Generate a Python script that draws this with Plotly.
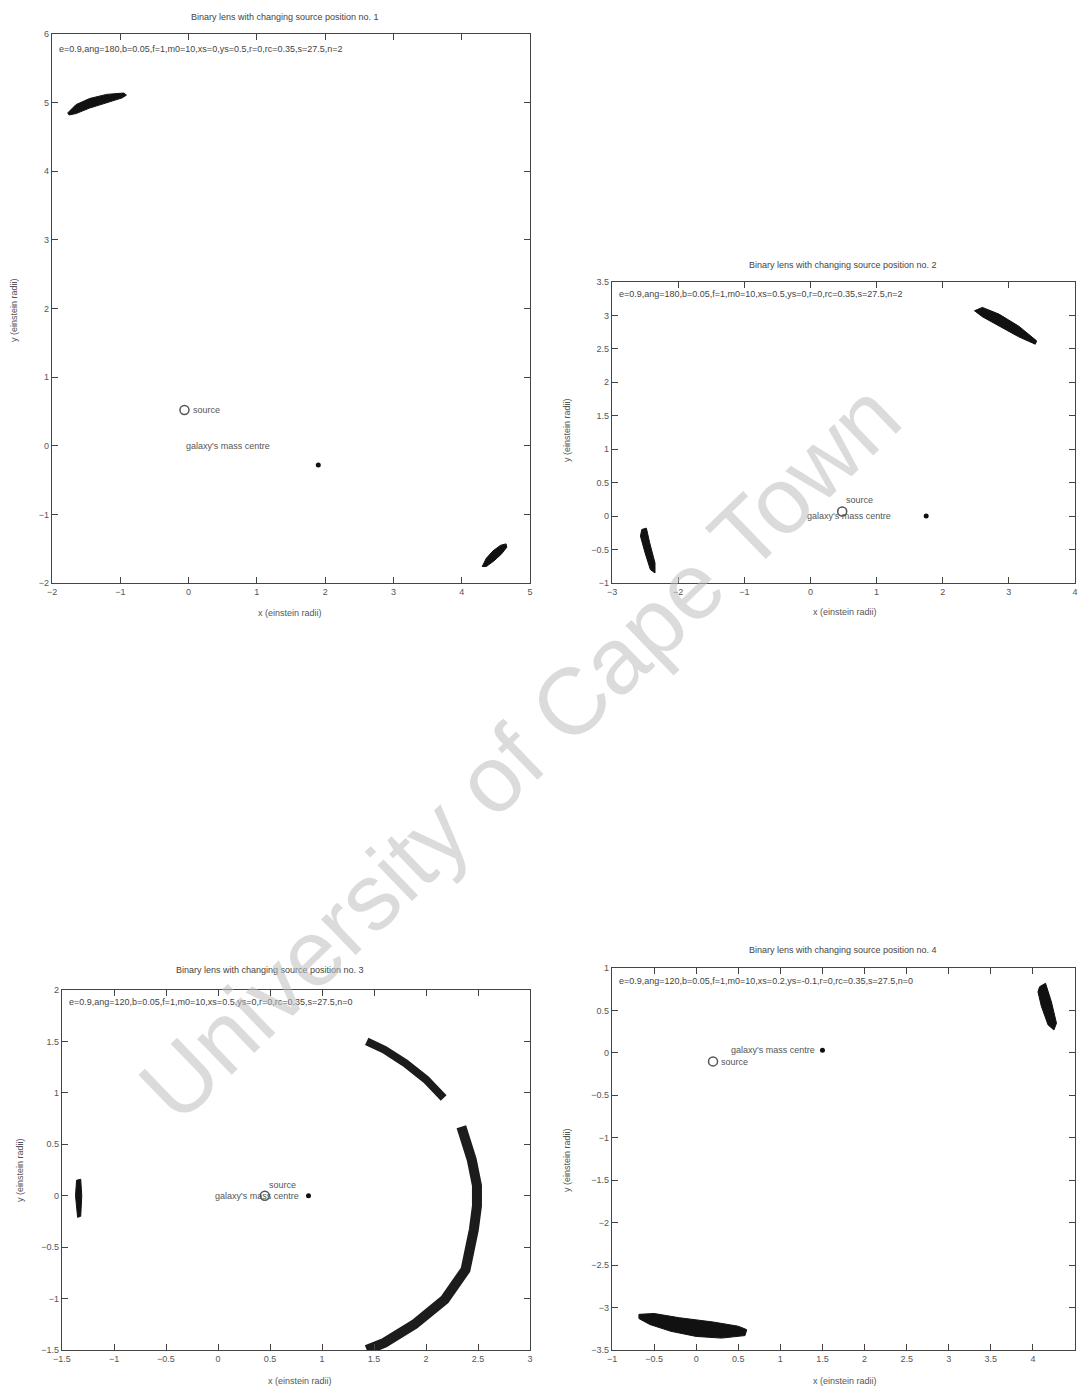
import plotly.graph_objects as go

# ---- panel data (einstein radii) ----
titles = [
    "Binary lens with changing source position no. 1",
    "Binary lens with changing source position no. 2",
    "Binary lens with changing source position no. 3",
    "Binary lens with changing source position no. 4",
]
params = [
    "e=0.9,ang=180,b=0.05,f=1,m0=10,xs=0,ys=0.5,r=0,rc=0.35,s=27.5,n=2",
    "e=0.9,ang=180,b=0.05,f=1,m0=10,xs=0.5,ys=0,r=0,rc=0.35,s=27.5,n=2",
    "e=0.9,ang=120,b=0.05,f=1,m0=10,xs=0.5,ys=0,r=0,rc=0.35,s=27.5,n=0",
    "e=0.9,ang=120,b=0.05,f=1,m0=10,xs=0.2,ys=-0.1,r=0,rc=0.35,s=27.5,n=0",
]

# image outlines, panel 1
p1_img_a_x = [-1.77, -1.65, -1.45, -1.2, -0.95, -0.91, -0.97, -1.2, -1.45, -1.65, -1.75]
p1_img_a_y = [4.85, 4.97, 5.06, 5.12, 5.14, 5.11, 5.07, 5.00, 4.92, 4.84, 4.82]
p1_img_b_x = [4.30, 4.36, 4.46, 4.57, 4.65, 4.66, 4.58, 4.47, 4.36]
p1_img_b_y = [-1.76, -1.64, -1.53, -1.45, -1.43, -1.48, -1.58, -1.68, -1.76]

# panel 2
p2_img_a_x = [2.48, 2.6, 2.85, 3.15, 3.42, 3.40, 3.15, 2.85, 2.6]
p2_img_a_y = [3.07, 3.12, 3.02, 2.84, 2.62, 2.57, 2.68, 2.85, 2.98]
p2_img_b_x = [-2.55, -2.48, -2.43, -2.35, -2.35, -2.42, -2.5, -2.57]
p2_img_b_y = [-0.2, -0.18, -0.4, -0.7, -0.85, -0.8, -0.55, -0.3]

# panel 3 (arcs)
p3_arc_a_x = [1.43, 1.6, 1.8, 2.0, 2.17]
p3_arc_a_y = [1.50, 1.42, 1.29, 1.13, 0.95]
p3_arc_b_x = [2.34, 2.44, 2.49, 2.49, 2.46, 2.38, 2.18, 1.89, 1.6, 1.43]
p3_arc_b_y = [0.67, 0.35, 0.1, -0.1, -0.33, -0.72, -1.01, -1.25, -1.43, -1.5]
p3_img_c_x = [-1.36, -1.32, -1.31, -1.32, -1.35, -1.37]
p3_img_c_y = [0.15, 0.16, 0.0, -0.2, -0.21, 0.0]

# panel 4
p4_img_a_x = [4.08, 4.15, 4.22, 4.28, 4.25, 4.18, 4.1, 4.06]
p4_img_a_y = [0.78, 0.82, 0.6, 0.35, 0.27, 0.33, 0.55, 0.72]
p4_img_b_x = [-0.68, -0.5, -0.2, 0.2, 0.5, 0.6, 0.58, 0.3, 0.0, -0.3, -0.55, -0.68]
p4_img_b_y = [-3.08, -3.07, -3.12, -3.17, -3.22, -3.26, -3.33, -3.36, -3.34, -3.28, -3.2, -3.13]

# source and galaxy mass centre positions
source_x = [-0.06, 0.48, 0.45, 0.2]
source_y = [0.52, 0.07, 0.0, -0.1]
centre_x = [1.9, 1.75, 0.87, 1.5]
centre_y = [-0.28, 0.0, 0.0, 0.03]

# where the "galaxy's mass centre" caption starts (left edge)
caption_x = [-0.07, -0.08, -0.05, -0.02]
caption_y = [0.0, 0.0, 0.0, 0.0]

# axis ranges and ticks
x_ranges = [[-2, 5], [-3, 4], [-1.5, 3], [-1, 4.5]]
y_ranges = [[-2, 6], [-1, 3.5], [-1.5, 2], [-3.5, 1]]
x_dticks = [1, 1, 0.5, 0.5]
y_dticks = [1, 0.5, 0.5, 0.5]

# panel placement (pixels in the page)
W, H = 1081, 1388
boxes = [(52, 530, 34, 583), (612, 1075, 282, 583), (62, 530, 990, 1350), (612, 1075, 968, 1350)]
title_pos = [(285, 17), (843, 265), (270, 970), (843, 950)]
xlab_pos = [(290, 613), (845, 612), (300, 1381), (845, 1381)]
ylab_pos = [(14, 310), (567, 430), (20, 1170), (567, 1160)]

INK = "#111111"
GREY = "#555555"
FONT = "Liberation Sans"

fig = go.Figure()


def ax_names(i):
    sfx = str(i + 1) if i else ""
    return "x" + sfx, "y" + sfx


def fill_shape(i, xs, ys):
    xr, yr = ax_names(i)
    fig.add_trace(go.Scatter(
        x=xs + xs[:1], y=ys + ys[:1], mode="lines", fill="toself",
        fillcolor=INK, line=dict(color=INK, width=1),
        xaxis=xr, yaxis=yr, hoverinfo="skip", showlegend=False))


def arc(i, xs, ys, width):
    xr, yr = ax_names(i)
    fig.add_trace(go.Scatter(
        x=xs, y=ys, mode="lines", line=dict(color="#1c1c1c", width=width),
        xaxis=xr, yaxis=yr, hoverinfo="skip", showlegend=False))


fill_shape(0, p1_img_a_x, p1_img_a_y)
fill_shape(0, p1_img_b_x, p1_img_b_y)
fill_shape(1, p2_img_a_x, p2_img_a_y)
fill_shape(1, p2_img_b_x, p2_img_b_y)
arc(2, p3_arc_a_x, p3_arc_a_y, 8)
arc(2, p3_arc_b_x, p3_arc_b_y, 10)
fill_shape(2, p3_img_c_x, p3_img_c_y)
fill_shape(3, p4_img_a_x, p4_img_a_y)
fill_shape(3, p4_img_b_x, p4_img_b_y)

annotations = []
layout = {}
small = dict(family=FONT, size=9, color=GREY)
for i in range(4):
    sfx = str(i + 1) if i else ""
    xr, yr = ax_names(i)
    x0, x1, y0, y1 = boxes[i]
    axis_common = dict(
        showgrid=False, zeroline=False, showline=True, mirror="ticks",
        linecolor="#444444", linewidth=1.4, ticks="inside", ticklen=6,
        tickcolor="#444444", tickfont=dict(family=FONT, size=9, color=GREY),
        automargin=False,
    )
    layout["xaxis" + sfx] = dict(
        axis_common, domain=[x0 / W, x1 / W], range=x_ranges[i],
        dtick=x_dticks[i], tick0=0, anchor=yr)
    layout["yaxis" + sfx] = dict(
        axis_common, domain=[1 - y1 / H, 1 - y0 / H], range=y_ranges[i],
        dtick=y_dticks[i], tick0=0, anchor=xr)

    # source (open circle) and galaxy's mass centre (dot)
    fig.add_trace(go.Scatter(
        x=[source_x[i]], y=[source_y[i]], mode="markers",
        marker=dict(symbol="circle-open", size=9, color=GREY, line=dict(width=1.5)),
        xaxis=xr, yaxis=yr, showlegend=False, hoverinfo="skip"))
    fig.add_trace(go.Scatter(
        x=[centre_x[i]], y=[centre_y[i]], mode="markers",
        marker=dict(symbol="circle", size=5, color=INK),
        xaxis=xr, yaxis=yr, showlegend=False, hoverinfo="skip"))

    if i == 0:
        annotations.append(dict(
            x=source_x[i], y=source_y[i], xref=xr, yref=yr, text="source",
            showarrow=False, xanchor="left", xshift=7, font=small))
    elif i == 3:
        annotations.append(dict(
            x=source_x[i], y=source_y[i], xref=xr, yref=yr, text="source",
            showarrow=False, xanchor="left", xshift=6, yshift=-1, font=small))
    else:
        annotations.append(dict(
            x=source_x[i], y=source_y[i], xref=xr, yref=yr, text="source",
            showarrow=False, xanchor="left", xshift=2, yshift=11, font=small))

    if i == 3:
        annotations.append(dict(
            x=centre_x[i], y=centre_y[i], xref=xr, yref=yr,
            text="galaxy's mass centre", showarrow=False, xanchor="right",
            xshift=-5, font=small))
    else:
        annotations.append(dict(
            x=caption_x[i], y=caption_y[i], xref=xr, yref=yr,
            text="galaxy's mass centre", showarrow=False, xanchor="left",
            font=small))

    # lens parameters inside the top of the box
    annotations.append(dict(
        x=0.01, y=0.985, xref=f"{xr} domain", yref=f"{yr} domain",
        text=params[i], showarrow=False, xanchor="left", yanchor="top",
        font=dict(family=FONT, size=9, color="#444444")))

    tx, ty = title_pos[i]
    annotations.append(dict(
        x=tx / W, y=1 - ty / H, xref="paper", yref="paper", text=titles[i],
        showarrow=False, xanchor="center", yanchor="middle",
        font=dict(family=FONT, size=9, color="#444444")))
    lx, ly = xlab_pos[i]
    annotations.append(dict(
        x=lx / W, y=1 - ly / H, xref="paper", yref="paper",
        text="x (einstein radii)", showarrow=False,
        xanchor="center", yanchor="middle",
        font=dict(family=FONT, size=9, color=GREY)))
    vx, vy = ylab_pos[i]
    annotations.append(dict(
        x=vx / W, y=1 - vy / H, xref="paper", yref="paper",
        text="y (einstein radii)", showarrow=False, textangle=-90,
        xanchor="center", yanchor="middle",
        font=dict(family=FONT, size=9, color=GREY)))

# repository watermark
annotations.append(dict(
    x=520 / W, y=1 - 752 / H, xref="paper", yref="paper",
    text="University of Cape Town", showarrow=False, textangle=-44,
    xanchor="center", yanchor="middle",
    font=dict(family=FONT, size=94, color="rgba(190,190,190,0.55)")))

fig.update_layout(
    width=W, height=H, margin=dict(l=0, r=0, t=0, b=0, autoexpand=False),
    paper_bgcolor="white", plot_bgcolor="white",
    showlegend=False, annotations=annotations, **layout)

fig.write_html("out.html")
